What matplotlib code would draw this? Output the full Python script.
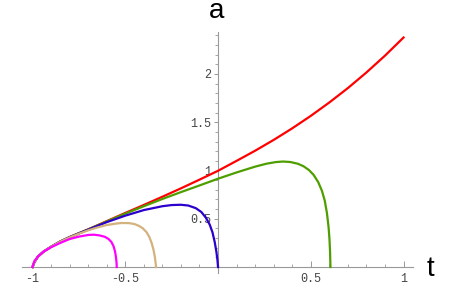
import matplotlib.pyplot as plt
from matplotlib.ticker import MultipleLocator, FixedLocator

# curves: (t, a)
red_t = [-1, -0.99, -0.97, -0.94, -0.9, -0.85, -0.8, -0.75, -0.7, -0.6, -0.5, -0.4, -0.3,
         -0.2, -0.1, 0, 0.1, 0.2, 0.3, 0.4, 0.5, 0.6, 0.7, 0.8, 0.9, 1.0]
red_a = [0, 0.05, 0.11, 0.16, 0.21, 0.265, 0.31, 0.35, 0.39, 0.475, 0.56, 0.643, 0.728,
         0.815, 0.905, 0.997, 1.10, 1.205, 1.317, 1.437, 1.566, 1.705, 1.854, 2.016, 2.19, 2.378]

green_t = [-1, -0.99, -0.97, -0.94, -0.9, -0.85, -0.8, -0.75, -0.7, -0.6, -0.5, -0.4, -0.3,
           -0.2, -0.1, 0, 0.1, 0.2, 0.26, 0.31, 0.35, 0.39, 0.43, 0.46, 0.49, 0.515, 0.54,
           0.56, 0.575, 0.587, 0.596, 0.601, 0.604, 0.606]
green_a = [0, 0.05, 0.11, 0.16, 0.21, 0.265, 0.31, 0.35, 0.389, 0.472, 0.553, 0.63, 0.705,
           0.776, 0.845, 0.915, 0.98, 1.04, 1.07, 1.087, 1.093, 1.088, 1.07, 1.045, 1.005,
           0.955, 0.88, 0.79, 0.69, 0.56, 0.41, 0.28, 0.15, 0]

blue_t = [-1, -0.99, -0.97, -0.94, -0.9, -0.85, -0.8, -0.75, -0.7, -0.6, -0.5, -0.4, -0.3,
          -0.25, -0.2, -0.16, -0.12, -0.09, -0.065, -0.045, -0.03, -0.018, -0.009, -0.003, 0]
blue_a = [0, 0.05, 0.11, 0.16, 0.21, 0.264, 0.309, 0.348, 0.387, 0.465, 0.532, 0.59, 0.63,
          0.642, 0.645, 0.637, 0.61, 0.57, 0.51, 0.44, 0.36, 0.26, 0.16, 0.07, 0]

tan_t = [-1, -0.99, -0.97, -0.94, -0.9, -0.85, -0.8, -0.75, -0.7, -0.65, -0.6, -0.55, -0.52,
         -0.48, -0.45, -0.425, -0.405, -0.385, -0.37, -0.358, -0.348, -0.341, -0.337, -0.334]
tan_a = [0, 0.05, 0.11, 0.16, 0.21, 0.263, 0.307, 0.345, 0.38, 0.41, 0.435, 0.45, 0.456,
         0.455, 0.445, 0.425, 0.4, 0.36, 0.31, 0.25, 0.18, 0.11, 0.05, 0]

mag_t = [-1, -0.99, -0.97, -0.94, -0.9, -0.85, -0.8, -0.75, -0.7, -0.67, -0.64, -0.61,
         -0.59, -0.575, -0.563, -0.555, -0.55, -0.547, -0.546]
mag_a = [0, 0.06, 0.11, 0.16, 0.205, 0.25, 0.29, 0.315, 0.332, 0.335, 0.328, 0.313,
         0.29, 0.26, 0.215, 0.16, 0.10, 0.045, 0]

xlabels = [-1, -0.5, 0.5, 1]
ylabels = [0.5, 1, 1.5, 2]

fig = plt.figure(figsize=(4.59, 2.84), dpi=100)
ax = fig.add_axes([0.0486, 0.0377, 0.8508, 0.8496])

lw = 1.6
ax.plot(red_t, red_a, color='#ff0000', lw=lw, zorder=3)
ax.plot(green_t, green_a, color='#4f9e00', lw=lw, zorder=3)
ax.plot(blue_t, blue_a, color='#2c00cc', lw=lw, zorder=3)
ax.plot(tan_t, tan_a, color='#d4b27e', lw=lw, zorder=3)
ax.plot(mag_t, mag_a, color='#ff00ff', lw=lw, zorder=3)

ax.set_xlim(-1.055, 1.05)
ax.set_ylim(-0.065, 2.435)

ax.spines['top'].set_visible(False)
ax.spines['right'].set_visible(False)
ax.spines['left'].set_position(('data', 0))
ax.spines['bottom'].set_position(('data', 0))
for s in ['left', 'bottom']:
    ax.spines[s].set_color('#999999')
    ax.spines[s].set_linewidth(0.8)

ax.xaxis.set_major_locator(FixedLocator(xlabels))
ax.yaxis.set_major_locator(FixedLocator(ylabels))
ax.xaxis.set_minor_locator(MultipleLocator(0.1))
ax.yaxis.set_minor_locator(MultipleLocator(0.1))
ax.set_xticklabels(['-1', '-0.5', '0.5', '1'])
ax.set_yticklabels(['0.5', '1', '1.5', '2'])

ax.tick_params(axis='x', which='major', direction='in', length=4, width=0.7, color='#999999',
               pad=4, labelsize=8.5, labelcolor='#444444')
ax.tick_params(axis='x', which='minor', direction='in', length=2, width=0.6, color='#999999')
ax.tick_params(axis='y', which='major', direction='out', length=3, width=0.7, color='#999999',
               pad=2, labelsize=8.5, labelcolor='#444444')
ax.tick_params(axis='y', which='minor', direction='out', length=2, width=0.6, color='#999999')
for lab in ax.get_xticklabels() + ax.get_yticklabels():
    lab.set_family('Liberation Mono')

fig.text(217 / 459, 1 - 18.5 / 284, 'a', fontsize=20, family='Liberation Sans',
         ha='center', va='baseline')
fig.text(430 / 459, 1 - 275.5 / 284, 't', fontsize=20, family='Liberation Sans',
         ha='center', va='baseline')

fig.savefig('out.png', dpi=100)
